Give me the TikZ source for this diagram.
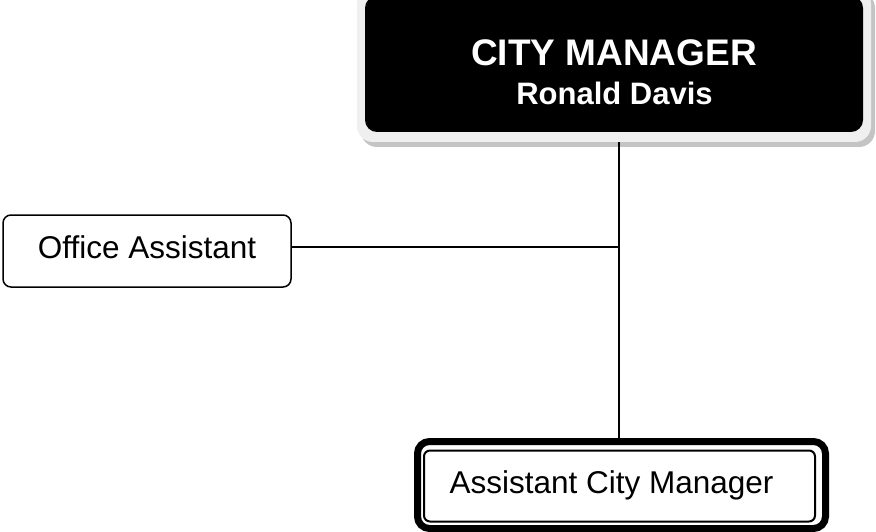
\documentclass[tikz,border=0pt]{standalone}
\usepackage{fontspec}
\setmainfont{Liberation Sans}
\definecolor{framegray}{HTML}{EFEFEF}
\definecolor{shadowgray}{HTML}{C4C4C4}
\begin{document}
\begin{tikzpicture}[x=1pt,y=-1pt,
  boxline/.style={draw=black,line width=1.5pt,rounded corners=8pt},
  conn/.style={draw=black,line width=1.3pt},
  lbl/.style={anchor=base,inner sep=0pt,font=\fontsize{31.5}{36}\selectfont},
  lblw/.style={anchor=base,inner sep=0pt,text=white,font=\bfseries}]
\useasboundingbox (0,0) rectangle (876,532);
% City manager box: shadow, frame, black face
\fill[shadowgray,rounded corners=16pt] (361,-8) rectangle (875,147);
\node[fill=framegray,rounded corners=16pt,minimum width=514pt,minimum height=154pt,inner sep=0pt] (cmframe) at (614,65) {};
\node[fill=black,rounded corners=12pt,minimum width=498pt,minimum height=136pt,inner sep=0pt] (cm) at (614,64) {};
\node[lblw,font=\bfseries\fontsize{37}{40}\selectfont] (cmt) at (614,66) {CITY MANAGER};
\node[lblw,font=\bfseries\fontsize{31}{36}\selectfont] (cmn) at (614.5,105) {Ronald Davis};
% Office assistant
\node[boxline,minimum width=288pt,minimum height=72pt,inner sep=0pt] (oa) at (147,251) {};
\node[lbl] (oat) at (147,258) {Office Assistant};
% Assistant city manager (double border)
\node[draw=black,line width=7pt,rounded corners=12pt,minimum width=408pt,minimum height=87pt,inner sep=0pt] (acm) at (621.5,485) {};
\node[draw=black,line width=2pt,rounded corners=6pt,minimum width=391pt,minimum height=71pt,inner sep=0pt] (acmin) at (619.5,486) {};
\node[lbl] (acmt) at (611.5,493) {Assistant City Manager};
% connectors
\coordinate (j) at (619,247);
\draw[conn] (j |- cmframe.south) -- (j |- acm.north);
\draw[conn] (j -| oa.east) -- (j);
\end{tikzpicture}
\end{document}
